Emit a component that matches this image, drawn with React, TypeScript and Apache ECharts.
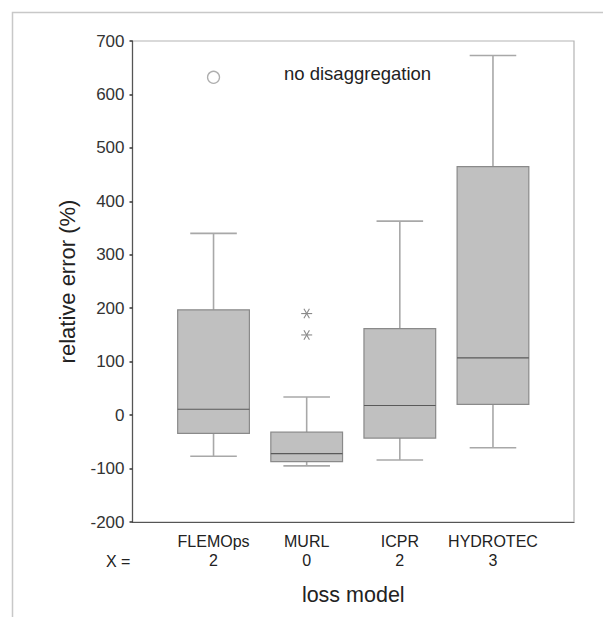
import React, { useEffect, useRef } from "react";
import * as echarts from "echarts";

// Loss models and the number of disaggregation classes used by each
const categories = ["FLEMOps", "MURL", "ICPR", "HYDROTEC"];
const disaggregationX = [2, 0, 2, 3];
const positions = [1, 2, 3, 4];

// Box statistics of the relative error (%)
const whiskerLow = [-77, -95, -84, -61];
const quartile1 = [-34, -87, -43, 20];
const medians = [11, -72, 18, 107];
const quartile3 = [197, -32, 162, 465];
const whiskerHigh = [340, 34, 363, 673];

// Outliers: [model position, relative error]
const circleOutliers = [[1, 632]];
const starOutliers = [
  [2, 190],
  [2, 150],
];

const yMin = -200;
const yMax = 700;
const yStep = 100;

const FONT = "Liberation Sans, Arial, Helvetica, sans-serif";

export default function App() {
  const ref = useRef<HTMLDivElement>(null);

  useEffect(() => {
    if (!ref.current) return;
    const chart = echarts.init(ref.current, null, { renderer: "svg" });

    const boxData = positions.map((p, i) => [
      p,
      whiskerLow[i],
      quartile1[i],
      medians[i],
      quartile3[i],
      whiskerHigh[i],
    ]);

    const boxRender = (params: any, api: any) => {
      const x = api.value(0);
      const lo = api.coord([x, api.value(1)]);
      const b1 = api.coord([x, api.value(2)]);
      const md = api.coord([x, api.value(3)]);
      const b3 = api.coord([x, api.value(4)]);
      const hi = api.coord([x, api.value(5)]);
      const boxW = api.size([0.77, 0])[0];
      const capW = api.size([0.5, 0])[0];
      const cx = lo[0];
      const whisker = { stroke: "#a8a8a8", lineWidth: 1.6 };
      return {
        type: "group",
        children: [
          { type: "line", shape: { x1: cx, y1: b3[1], x2: cx, y2: hi[1] }, style: whisker },
          { type: "line", shape: { x1: cx, y1: lo[1], x2: cx, y2: b1[1] }, style: whisker },
          { type: "line", shape: { x1: cx - capW / 2, y1: hi[1], x2: cx + capW / 2, y2: hi[1] }, style: whisker },
          { type: "line", shape: { x1: cx - capW / 2, y1: lo[1], x2: cx + capW / 2, y2: lo[1] }, style: whisker },
          {
            type: "rect",
            shape: { x: cx - boxW / 2, y: b3[1], width: boxW, height: b1[1] - b3[1] },
            style: { fill: "#c0c0c0", stroke: "#8a8a8a", lineWidth: 1.2 },
          },
          {
            type: "line",
            shape: { x1: cx - boxW / 2, y1: md[1], x2: cx + boxW / 2, y2: md[1] },
            style: { stroke: "#5a5a5a", lineWidth: 1.2 },
          },
        ],
      };
    };

    const starRender = (params: any, api: any) => {
      const c = api.coord([api.value(0), api.value(1)]);
      const r = 5.5;
      const dx = r * Math.cos(Math.PI / 3);
      const dy = r * Math.sin(Math.PI / 3);
      const st = { stroke: "#8a8a8a", lineWidth: 1.1 };
      return {
        type: "group",
        children: [
          { type: "line", shape: { x1: c[0] - r, y1: c[1], x2: c[0] + r, y2: c[1] }, style: st },
          { type: "line", shape: { x1: c[0] - dx, y1: c[1] - dy, x2: c[0] + dx, y2: c[1] + dy }, style: st },
          { type: "line", shape: { x1: c[0] - dx, y1: c[1] + dy, x2: c[0] + dx, y2: c[1] - dy }, style: st },
        ],
      };
    };

    chart.setOption({
      animation: false,
      backgroundColor: "#ffffff",
      title: {
        text: "no disaggregation",
        left: 279,
        top: 59,
        textStyle: { fontFamily: FONT, fontSize: 18.5, fontWeight: "normal", color: "#222" },
      },
      graphic: [
        {
          type: "rect",
          left: 10,
          top: 10,
          shape: { width: 1200, height: 1200 },
          style: { fill: "none", stroke: "#c8c8c8", lineWidth: 1.5 },
          z: -10,
          silent: true,
        },
        {
          type: "text",
          left: 106,
          top: 553,
          style: { text: "X =", fontFamily: FONT, fontSize: 16, fill: "#222" },
        },
      ],
      grid: {
        left: 132.5,
        right: 29,
        top: 41,
        bottom: 95,
        show: true,
        borderColor: "#b4b4b4",
        borderWidth: 1.2,
        backgroundColor: "transparent",
      },
      xAxis: {
        type: "value",
        min: 0.13,
        max: 4.87,
        name: "loss model",
        nameLocation: "middle",
        nameGap: 62,
        nameTextStyle: { fontFamily: FONT, fontSize: 21.5, color: "#222" },
        axisLine: { show: true, onZero: false, lineStyle: { color: "#555", width: 1.2 } },
        axisTick: { show: false },
        splitLine: { show: false },
        axisLabel: {
          customValues: positions,
          margin: 10,
          formatter: (v: number) => {
            const i = positions.indexOf(Math.round(v));
            return i < 0 ? "" : `{n|${categories[i]}}\n{x|${disaggregationX[i]}}`;
          },
          rich: {
            n: { fontFamily: FONT, fontSize: 16, color: "#222", lineHeight: 19 },
            x: { fontFamily: FONT, fontSize: 16, color: "#222", lineHeight: 19 },
          },
        },
      },
      yAxis: {
        type: "value",
        min: yMin,
        max: yMax,
        interval: yStep,
        name: "relative error (%)",
        nameLocation: "middle",
        nameGap: 54,
        nameTextStyle: { fontFamily: FONT, fontSize: 22, color: "#222" },
        axisLine: { show: true, onZero: false, lineStyle: { color: "#555", width: 1.2 } },
        axisTick: { show: true, length: 3, lineStyle: { color: "#333", width: 1.5 } },
        splitLine: { show: false },
        axisLabel: { fontFamily: FONT, fontSize: 17, color: "#333", margin: 8 },
      },
      series: [
        {
          type: "custom",
          renderItem: boxRender,
          data: boxData,
          encode: { x: 0, y: [1, 2, 3, 4, 5] },
          z: 2,
        },
        {
          type: "scatter",
          data: circleOutliers,
          symbol: "circle",
          symbolSize: 12,
          itemStyle: { color: "#ffffff", borderColor: "#9a9a9a", borderWidth: 1.3 },
          z: 3,
        },
        {
          type: "custom",
          renderItem: starRender,
          data: starOutliers,
          encode: { x: 0, y: 1 },
          z: 3,
        },
      ],
    });

    return () => chart.dispose();
  }, []);

  return (
    <div
      ref={ref}
      style={{ position: "fixed", left: 0, top: 0, width: 603, height: 617 }}
    />
  );
}
